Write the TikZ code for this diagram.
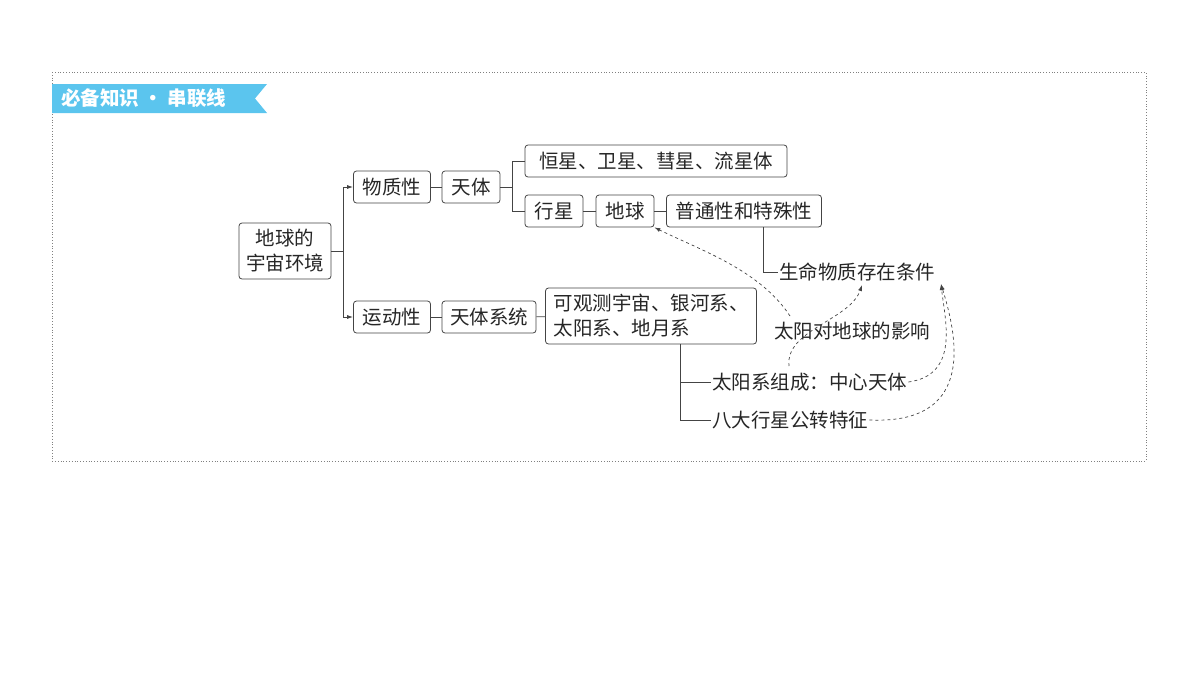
\documentclass[tikz,border=0pt]{standalone}
\usepackage{fontspec}
\setmainfont{Noto Sans CJK SC}
\usetikzlibrary{arrows.meta}
\definecolor{bannerblue}{HTML}{5BC5EE}
\definecolor{linegray}{HTML}{444444}

\begin{document}
\begin{tikzpicture}[x=1pt, y=-1pt,
		box/.style={draw=linegray, rounded corners=3pt, line width=0.8pt, minimum height=32pt, inner xsep=3pt, inner ysep=2pt, font=\fontsize{19.5}{25}\selectfont, text=black!85},
		txt/.style={inner sep=1pt, font=\fontsize{19.5}{25}\selectfont, text=black!85},
		link/.style={draw=linegray, line width=0.8pt},
		dashlink/.style={draw=linegray, line width=0.7pt, dashed, -{Latex[length=6pt,width=4pt]}}]
	\useasboundingbox (0,0) rectangle (1200,675);
	\draw[gray, dotted, line width=0.8pt] (52,72) rectangle (1146,461);
	\fill[bannerblue] (52,84) -- (267,84) -- (255,98.5) -- (267,113) -- (52,113) -- cycle;
	\node[anchor=west, text=white, inner sep=0pt, font=\bfseries\fontsize{19.5}{22}\selectfont] (banner) at (61,98.5) {必备知识 · 串联线};

	\draw (285,251) node[box, minimum width=92pt, minimum height=56pt, align=center] (root) {地球的\\宇宙环境};
	\draw (392,187) node[box, minimum width=77pt] (wuzhi) {物质性};
	\draw (471,187) node[box, minimum width=58pt] (tianti) {天体};
	\draw (656,161) node[box, minimum width=262pt] (hengxing) {恒星、卫星、彗星、流星体};
	\draw (554,211) node[box, minimum width=58pt] (xingxing) {行星};
	\draw (625,211) node[box, minimum width=58pt] (diqiu) {地球};
	\draw (744,211) node[box, minimum width=155pt] (putong) {普通性和特殊性};
	\draw (778,272) node[txt, anchor=west] (shengming) {生命物质存在条件};
	\draw (392,317) node[box, minimum width=77pt] (yundong) {运动性};
	\draw (489,317) node[box, minimum width=94pt] (xitong) {天体系统};
	\draw (651,316) node[box, minimum width=211pt, minimum height=56pt, align=left] (guance) {可观测宇宙、银河系、\\太阳系、地月系};
	\draw (773,331) node[txt, anchor=west] (yingxiang) {太阳对地球的影响};
	\draw (711,382) node[txt, anchor=west] (zucheng) {太阳系组成：中心天体};
	\draw (711,420) node[txt, anchor=west] (bada) {八大行星公转特征};

	\draw[link, -{Latex[length=6pt,width=4pt]}] (root.east) -- (343,251) |- (wuzhi.west);
	\draw[link, -{Latex[length=6pt,width=4pt]}] (343,251) |- (yundong.west);
	\draw[link] (wuzhi) -- (tianti);
	\draw[link] (tianti.east) -- (512,187) |- (hengxing.west);
	\draw[link] (512,187) |- (xingxing.west);
	\draw[link] (xingxing) -- (diqiu);
	\draw[link] (diqiu) -- (putong);
	\draw[link] (763,227) |- (shengming.west);
	\draw[link] (yundong) -- (xitong);
	\draw[link] (xitong) -- (guance);
	\draw[link] (680,344) |- (zucheng.west);
	\draw[link] (680,382) |- (bada.west);

	\draw[dashlink] (790,316) .. controls (760,270) and (700,250) .. (diqiu.south east);
	\draw[dashlink] (789,366) .. controls (785,330) and (850,320) .. (862,285);
	\draw[dashlink] (zucheng.east) .. controls (960,375) and (945,320) .. (941,284);
	\draw[dashlink] (bada.east) .. controls (980,425) and (955,330) .. (941,284);
\end{tikzpicture}
\end{document}
